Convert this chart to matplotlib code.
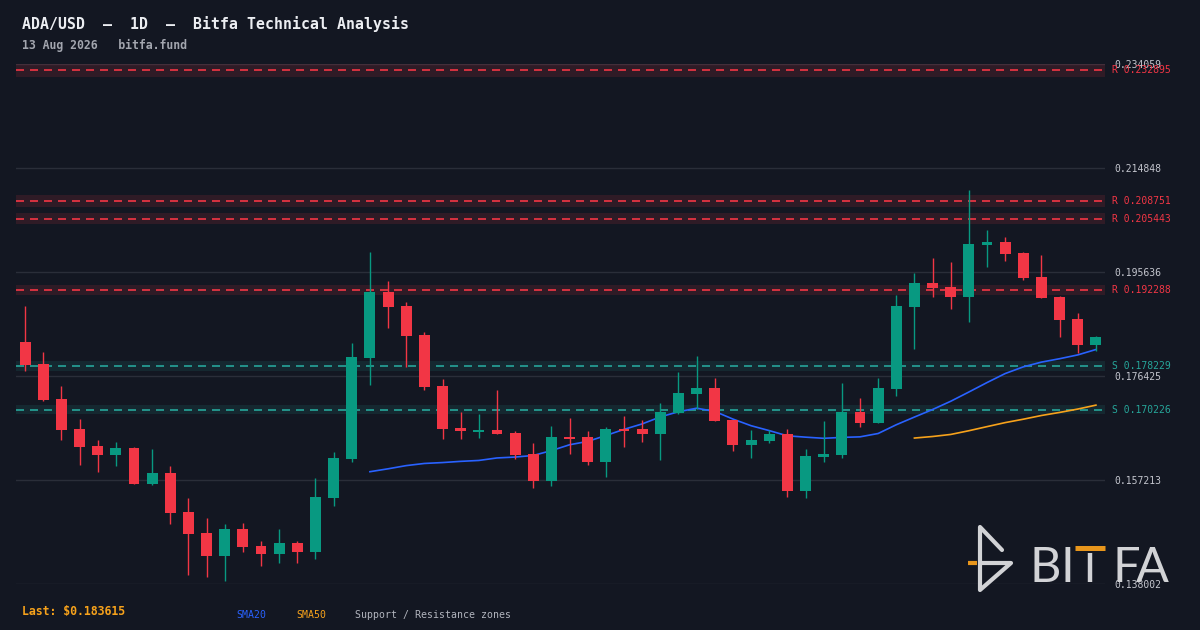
import matplotlib
matplotlib.use("Agg")
import matplotlib.pyplot as plt
import matplotlib.lines as mlines
import numpy as np
import pandas as pd

# daily candles
opens = [0.18270, 0.17864, 0.17218, 0.16663, 0.16349, 0.16183, 0.16312, 0.15647, 0.15851, 0.15130,
         0.14742, 0.14317, 0.14816, 0.14502, 0.14354, 0.14558, 0.14391, 0.15389, 0.16109, 0.17975,
         0.19194, 0.18935, 0.18400, 0.17458, 0.16682, 0.16608, 0.16645, 0.16589, 0.16202, 0.15703,
         0.16516, 0.16516, 0.16054, 0.16663, 0.16663, 0.16571, 0.16959, 0.17310, 0.17421, 0.16830,
         0.16368, 0.16442, 0.16571, 0.15518, 0.16146, 0.16183, 0.16977, 0.16774, 0.17402, 0.18917,
         0.19360, 0.19286, 0.19102, 0.20062, 0.20118, 0.19914, 0.19471, 0.19102, 0.18695, 0.18215]
highs = [0.18935, 0.18086, 0.17458, 0.16848, 0.16460, 0.16423, 0.16331, 0.16294, 0.15980, 0.15389,
         0.15019, 0.14909, 0.14927, 0.14594, 0.14816, 0.14594, 0.15758, 0.16239, 0.18252, 0.19933,
         0.19397, 0.19009, 0.18455, 0.17587, 0.16977, 0.16940, 0.17384, 0.16626, 0.16405, 0.16719,
         0.16867, 0.16626, 0.16700, 0.16903, 0.16830, 0.17144, 0.17716, 0.18012, 0.17605, 0.16830,
         0.16645, 0.16645, 0.16663, 0.16294, 0.16811, 0.17513, 0.17236, 0.17605, 0.19139, 0.19545,
         0.19822, 0.19748, 0.21078, 0.20339, 0.20210, 0.19933, 0.19877, 0.19120, 0.18806, 0.18381]
lows = [0.17735, 0.17181, 0.16460, 0.15998, 0.15869, 0.15980, 0.15647, 0.15629, 0.14909, 0.13966,
        0.13930, 0.13856, 0.14391, 0.14133, 0.14188, 0.14188, 0.14262, 0.15241, 0.16054, 0.17476,
        0.18529, 0.17809, 0.17384, 0.16479, 0.16479, 0.16497, 0.16571, 0.16109, 0.15574, 0.15610,
        0.16202, 0.15998, 0.15777, 0.16331, 0.16423, 0.16091, 0.16940, 0.17033, 0.16811, 0.16257,
        0.16128, 0.16405, 0.15407, 0.15389, 0.16054, 0.16128, 0.16700, 0.16774, 0.17273, 0.18141,
        0.19102, 0.18880, 0.18640, 0.19656, 0.19767, 0.19416, 0.19083, 0.18363, 0.18067, 0.18104]
closes = [0.17846, 0.17199, 0.16645, 0.16331, 0.16183, 0.16312, 0.15647, 0.15851, 0.15112, 0.14724,
          0.14317, 0.14816, 0.14484, 0.14354, 0.14558, 0.14391, 0.15407, 0.16128, 0.17993, 0.19194,
          0.18917, 0.18381, 0.17439, 0.16663, 0.16626, 0.16645, 0.16571, 0.16183, 0.15703, 0.16516,
          0.16479, 0.16054, 0.16663, 0.16626, 0.16571, 0.16977, 0.17328, 0.17421, 0.16811, 0.16368,
          0.16460, 0.16571, 0.15518, 0.16165, 0.16202, 0.16977, 0.16774, 0.17421, 0.18935, 0.19360,
          0.19268, 0.19102, 0.20081, 0.20118, 0.19896, 0.19453, 0.19083, 0.18677, 0.18215, 0.183615]

resistance = [0.232895, 0.208751, 0.205443, 0.192288]
support = [0.178229, 0.170226]
price_ticks = [0.138002, 0.157213, 0.176425, 0.195636, 0.214848, 0.234059]

title = "ADA/USD  —  1D  —  Bitfa Technical Analysis"
subtitle = "13 Aug 2026   bitfa.fund"
last_label = "Last: $0.183615"

BG = "#131722"
UP = "#089981"
DOWN = "#f23645"
GRID = "#2a2e39"
MONO = "DejaVu Sans Mono"

W, H = 1200, 630
fig = plt.figure(figsize=(W / 100, H / 100), dpi=100, facecolor=BG)
ax = fig.add_axes([16 / W, 46 / H, 1089 / W, 520 / H])
ax.set_facecolor(BG)

x = np.arange(len(closes))
o = np.array(opens)
c = np.array(closes)
up = c >= o
colors = np.where(up, UP, DOWN)

# moving averages of the closes
sma20 = pd.Series(closes).rolling(20).mean()
sma50 = pd.Series(closes).rolling(50).mean()

# grid
for t in price_ticks:
    ax.axhline(t, color=GRID, lw=1, zorder=0)

# support / resistance zones
for lvl in resistance:
    ax.axhspan(lvl * 0.995, lvl * 1.005, color=DOWN, alpha=0.13, lw=0, zorder=1)
    ax.axhline(lvl, color=DOWN, lw=1.2, ls=(0, (4.8, 3.6)), zorder=1.5)
for lvl in support:
    ax.axhspan(lvl * 0.995, lvl * 1.005, color="#26a69a", alpha=0.12, lw=0, zorder=1)
    ax.axhline(lvl, color="#26a69a", lw=1.2, ls=(0, (4.8, 3.6)), zorder=1.5)

ax.plot(x, sma20, color="#2962ff", lw=1.2, zorder=2)
ax.plot(x, sma50, color="#f7a21b", lw=1.2, zorder=2)

# candles
ax.vlines(x, lows, highs, color=colors, lw=1.0, zorder=3)
body = np.maximum(np.abs(c - o), 0.00018)
ax.bar(x, body, bottom=np.minimum(o, c), width=0.6, color=colors, lw=0, zorder=4)

ax.set_xlim(-0.5, len(closes) - 0.5)
ax.set_ylim(price_ticks[0], price_ticks[-1])
for s in ax.spines.values():
    s.set_visible(False)
ax.set_xticks([])
ax.yaxis.tick_right()
ax.set_yticks(price_ticks)
ax.set_yticklabels([f"{t:.6f}" for t in price_ticks])
ax.tick_params(axis="y", length=0, pad=7, labelsize=7, labelcolor="#c4c6ce")
for lab in ax.get_yticklabels():
    lab.set_fontfamily(MONO)

tr = ax.get_yaxis_transform()
lx = 1 + 7 / 1089
for lvl in resistance:
    ax.text(lx, lvl, f"R {lvl:.6f}", transform=tr, color=DOWN, fontsize=7,
            family=MONO, va="center", ha="left", clip_on=False)
for lvl in support:
    ax.text(lx, lvl, f"S {lvl:.6f}", transform=tr, color="#26a69a", fontsize=7,
            family=MONO, va="center", ha="left", clip_on=False)


def fy(py):
    return 1 - py / H


# header and footer texts
fig.text(22 / W, fy(24), title, color="#eceef2", fontsize=10.7, family=MONO,
         fontweight="bold", va="center", ha="left")
fig.text(22 / W, fy(45), subtitle, color="#a3a6af", fontsize=8.3, family=MONO,
         fontweight="bold", va="center", ha="left")
fig.text(22 / W, fy(612), last_label, color="#f7a21b", fontsize=8.3, family=MONO,
         fontweight="bold", va="center", ha="left")
fig.text(236 / W, fy(615), "SMA20", color="#2962ff", fontsize=7.1, family=MONO,
         va="center", ha="left")
fig.text(296 / W, fy(615), "SMA50", color="#f7a21b", fontsize=7.1, family=MONO,
         va="center", ha="left")
fig.text(355 / W, fy(615), "Support / Resistance zones", color="#b2b5be", fontsize=7.1,
         family=MONO, va="center", ha="left")

# watermark logo
LOGO = "#d2d3d6"
icon = [(1002, 550), (980, 527), (980, 590), (1011, 563), (980, 563)]
fig.add_artist(mlines.Line2D([p[0] / W for p in icon], [fy(p[1]) for p in icon],
                             color=LOGO, lw=3, solid_joinstyle="round",
                             solid_capstyle="round"))
fig.add_artist(mlines.Line2D([968 / W, 977 / W], [fy(563), fy(563)],
                             color="#e8961c", lw=3, solid_capstyle="butt"))
for ch, cx in [("B", 1045), ("I", 1067), ("F", 1126), ("A", 1152)]:
    fig.text(cx / W, fy(582), ch, color=LOGO, fontsize=35, family="Lato",
             va="baseline", ha="center")
fig.add_artist(mlines.Line2D([1090 / W, 1090 / W], [fy(553), fy(582)],
                             color=LOGO, lw=3.2, solid_capstyle="butt"))
fig.add_artist(mlines.Line2D([1075 / W, 1105 / W], [fy(547.5), fy(547.5)],
                             color="#e8961c", lw=3.6, solid_capstyle="butt"))

fig.savefig("out.png", dpi=100, facecolor=BG)
